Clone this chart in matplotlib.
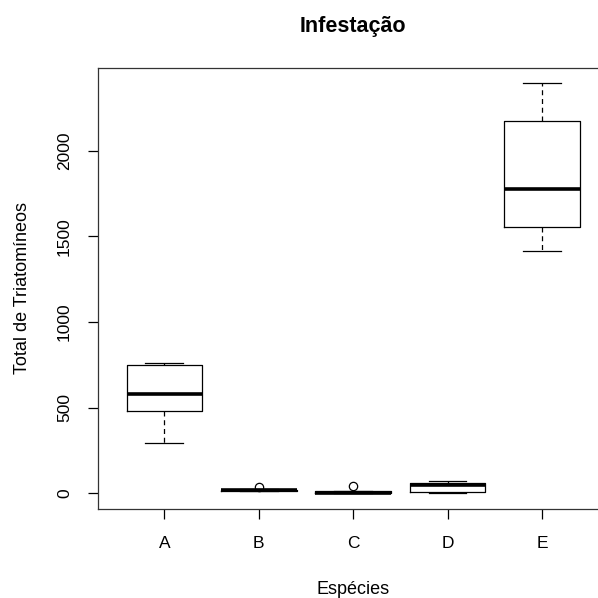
"""
Infestação boxplot, R base-graphics look
"""
import matplotlib
matplotlib.use("Agg")
import matplotlib.pyplot as plt

# box statistics per species
species = ["A", "B", "C", "D", "E"]
whisker_low = [296, 12, 0, 0, 1414]
q1 = [478, 15, 0, 5, 1555]
median = [580, 18, 3, 45, 1776]
q3 = [747, 20, 10, 62, 2172]
whisker_high = [759, 24, 12, 70, 2396]
outliers = [[], [37], [42], [], []]

title = "Infestação"
x_label = "Espécies"
y_label = "Total de Triatomíneos"
y_ticks = [0, 500, 1000, 1500, 2000]

plt.rcParams["font.family"] = ["Liberation Sans", "DejaVu Sans"]

stats = []
for i, name in enumerate(species):
    stats.append({
        "label": name,
        "whislo": whisker_low[i],
        "q1": q1[i],
        "med": median[i],
        "q3": q3[i],
        "whishi": whisker_high[i],
        "fliers": outliers[i],
    })

fig = plt.figure(figsize=(5.98, 5.98), dpi=100)
# axes box runs past the right edge of the image, as in the reference
ax = fig.add_axes([98.3 / 598, 88.7 / 598, 509.7 / 598, 441.6 / 598])

line_kw = dict(color="black", linewidth=0.9)
ax.bxp(
    stats,
    positions=range(1, len(species) + 1),
    widths=0.8,
    boxprops=dict(color="black", linewidth=0.9),
    medianprops=dict(color="black", linewidth=2.6, solid_capstyle="butt"),
    whiskerprops=dict(color="black", linewidth=0.9, linestyle=(0, (4, 3))),
    capprops=line_kw,
    capwidths=0.4,
    flierprops=dict(marker="o", markersize=6, markerfacecolor="none",
                    markeredgecolor="black", markeredgewidth=0.9),
)

ax.set_xlim(0.3, 5.7)
ax.set_ylim(-94, 2485)
ax.set_yticks(y_ticks)
ax.set_yticklabels([str(v) for v in y_ticks], rotation=90, va="center")
ax.tick_params(axis="both", length=7, width=0.9, labelsize=12.5, colors="black")
ax.tick_params(axis="x", pad=12)
ax.tick_params(axis="y", pad=12)
for side in ax.spines.values():
    side.set_linewidth(0.9)
    side.set_color("#333333")

ax.set_title(title, fontsize=15.5, fontweight="bold", pad=26)
ax.set_xlabel(x_label, fontsize=13, labelpad=22)
ax.set_ylabel(y_label, fontsize=13, labelpad=19)

fig.savefig("out.png", dpi=100)
